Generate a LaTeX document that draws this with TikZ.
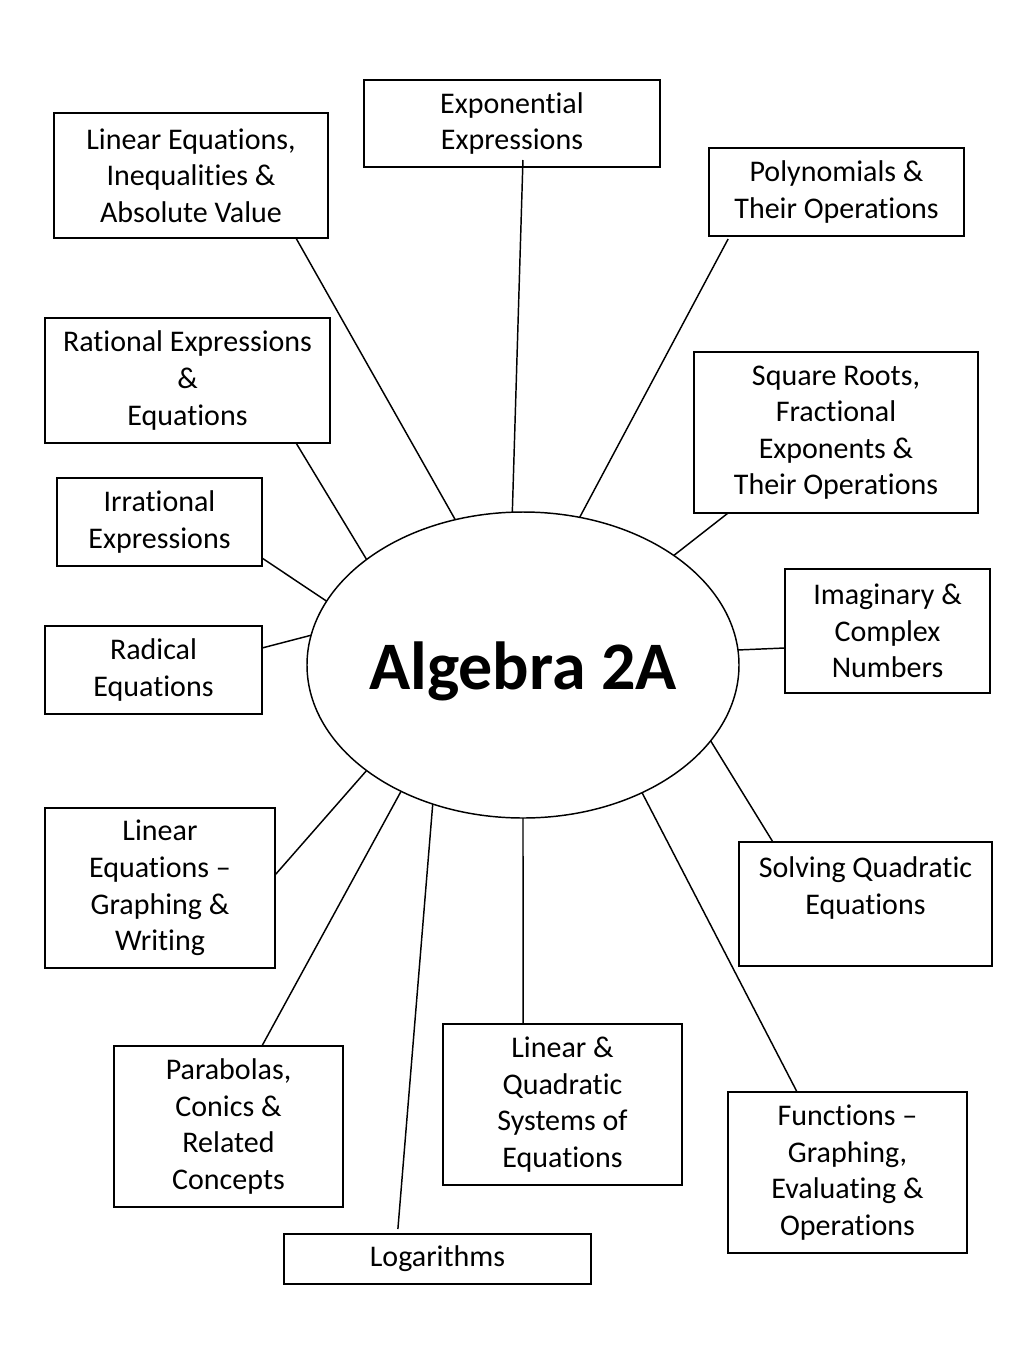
\documentclass[tikz,border=0pt]{standalone}
\usepackage{fontspec}
\setmainfont[Ligatures=NoCommon]{Carlito}
\usetikzlibrary{calc,shapes.geometric}
\begin{document}
\begin{tikzpicture}[x=0.75pt,y=-0.75pt,
  bx/.style 2 args={draw=black,line width=1.1pt,inner sep=0pt,outer sep=0pt,
    align=center,minimum width={#1*0.75pt},minimum height={#2*0.75pt},
    font=\fontsize{22.5}{27.4}\selectfont},
  conn/.style={draw=black,line width=1.1pt}]
\useasboundingbox (0,0) rectangle (1024,1365);
\fill[white] (0,0) rectangle (1024,1365);
\node[ellipse,draw=black,line width=1.1pt,inner sep=0pt,outer sep=0pt,
  minimum width={432*0.75pt},minimum height={306*0.75pt}] (alg) at (523,665) {};
\node[font=\fontsize{51}{60}\selectfont\bfseries,inner sep=0pt] (algtxt) at (523,671) {Algebra 2A};
\node[bx={296}{87}] (b1) at (512,123.5) {Exponential\\Expressions};
\node[bx={274}{125}] (b2) at (191,175.5) {Linear Equations,\\Inequalities \&\\Absolute Value};
\node[bx={255}{88}] (b3) at (836.5,192) {Polynomials \&\\Their Operations};
\node[bx={285}{125}] (b4) at (187.5,380.5) {Rational Expressions\\\&\\Equations};
\node[bx={284}{161}] (b5) at (836,432.5) {Square Roots,\\Fractional\\Exponents \&\\Their Operations};
\node[bx={205}{88}] (b6) at (159.5,522) {Irrational\\Expressions};
\node[bx={205}{124}] (b7) at (887.5,631) {Imaginary \&\\Complex\\Numbers};
\node[bx={217}{88}] (b8) at (153.5,670) {Radical\\Equations};
\node[bx={230}{160}] (b9) at (160,888) {Linear\\Equations –\\Graphing \&\\Writing};
\node[bx={253}{124}] (b10) at (865.5,904) {Solving Quadratic\\Equations\\\mbox{}};
\node[bx={229}{161}] (b11) at (228.5,1126.5) {Parabolas,\\Conics \&\\Related\\Concepts};
\node[bx={239}{161}] (b12) at (562.5,1104.5) {Linear \&\\Quadratic\\Systems of\\Equations};
\node[bx={239}{161}] (b13) at (847.5,1172.5) {Functions –\\Graphing,\\Evaluating \&\\Operations};
\node[bx={307}{50}] (b14) at (437.5,1259) {Logarithms};
% connectors
\draw[conn] ($(b1.south west)!0.537!(b1.south east) + (0,-7)$) -- (alg.94.1);
\draw[conn] ($(b2.south west)!0.883!(b2.south east)$) -- (alg.115.4);
\draw[conn] ($(b3.south west)!0.075!(b3.south east) + (0,3)$) -- (alg.69.6);
\draw[conn] ($(b4.south west)!0.881!(b4.south east)$) -- (alg.146);
\draw[conn] ($(b5.south west)!0.12!(b5.south east)$) -- (alg.36.2);
\draw[conn] ($(b6.north east)!0.909!(b6.south east)$) -- (alg.162.9);
\draw[conn] ($(b8.north east)!0.25!(b8.south east)$) -- (alg.172.4);
\draw[conn] ($(b7.north west)!0.637!(b7.south west)$) -- (alg.4.5);
\draw[conn] ($(b9.north east)!0.419!(b9.south east)$) -- (alg.214.3);
\draw[conn] ($(b10.north west)!0.134!(b10.north east)$) -- (alg.338.9);
\draw[conn] ($(b11.north west)!0.646!(b11.north east)$) -- (alg.226.3);
\draw[conn] ($(b12.north west)!0.335!(b12.north east)$) -- (alg.270);
\draw[conn] ($(b13.north west)!0.289!(b13.north east)$) -- (alg.313.8);
\draw[conn] ($(b14.north west)!0.371!(b14.north east) + (0,-5)$) -- (alg.237.5);
\end{tikzpicture}
\end{document}
